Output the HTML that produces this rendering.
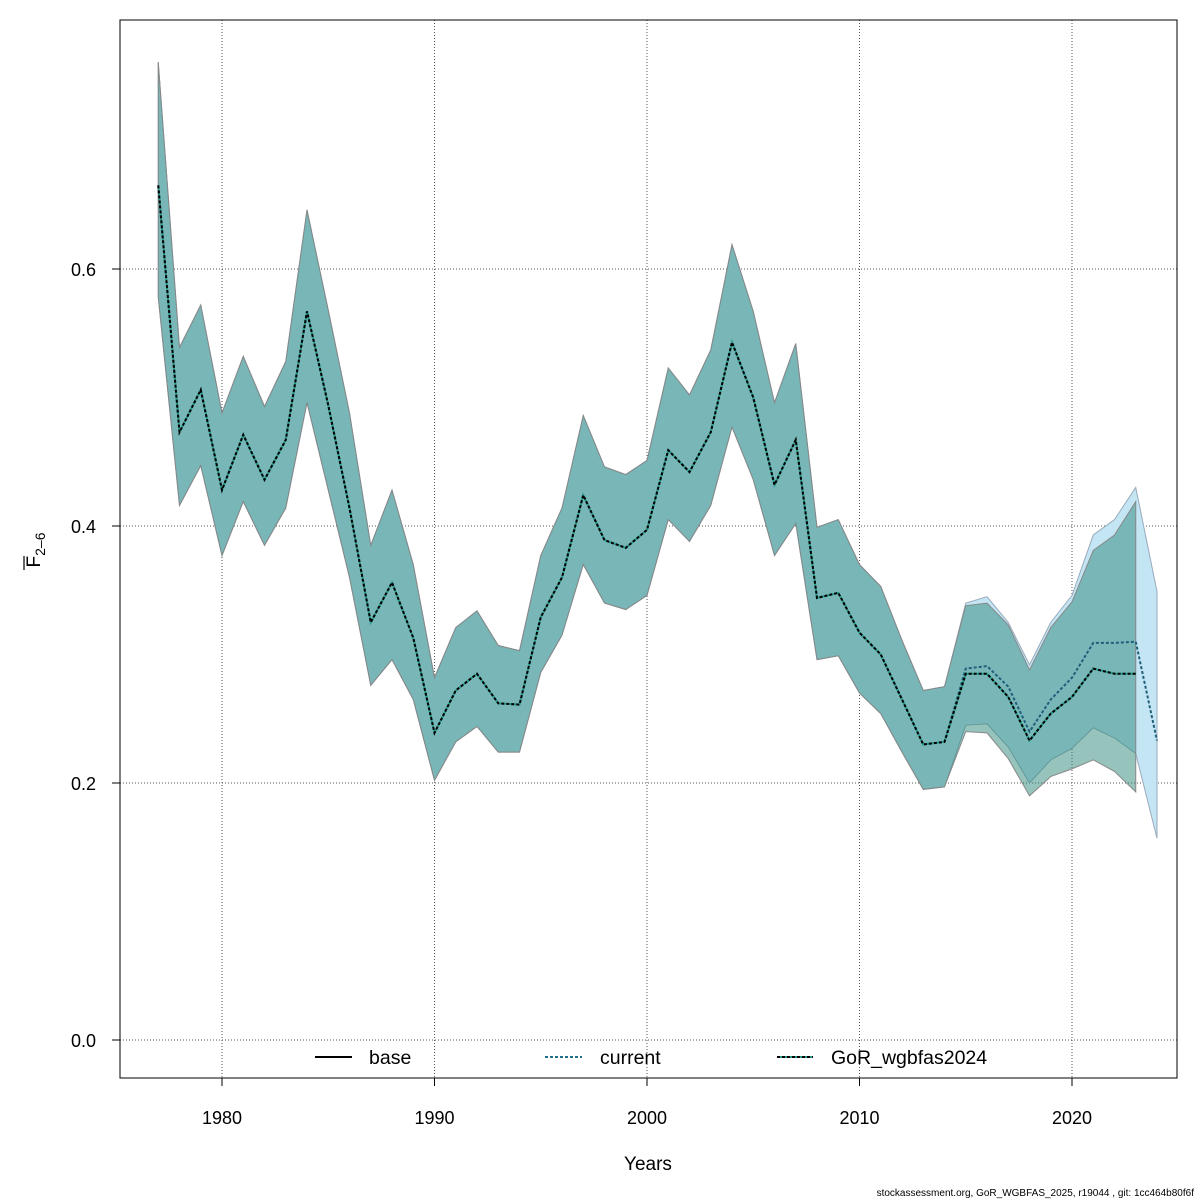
<!DOCTYPE html>
<html><head><meta charset="utf-8"><style>
body{margin:0;background:#fff}
svg{display:block;font-family:"Liberation Sans",sans-serif}
</style></head><body>
<svg id="chart" width="1200" height="1200" viewBox="0 0 1200 1200">
<rect width="1200" height="1200" fill="#fff"/>
<g id="grid"></g>
<g id="bands"></g>
<g id="lines"></g>
<g id="axes"></g>
<rect x="120" y="20" width="1057" height="1058" fill="none" stroke="#000" stroke-width="1"/>
<text x="648" y="1170" font-size="19" text-anchor="middle">Years</text>
<g transform="translate(40,550) rotate(-90)">
<text x="0" y="0" font-size="19" text-anchor="middle">F<tspan font-size="14" dy="5">2–6</tspan></text>
<line x1="-20" y1="-16" x2="-6" y2="-16" stroke="#000" stroke-width="1.2"/>
</g>
<g>
<g><line x1="315" y1="1057" x2="352" y2="1057" stroke="#000" stroke-width="2"/><text x="369" y="1064" font-size="19.5">base</text></g>
<g><line x1="545" y1="1057" x2="582" y2="1057" stroke="#1f6f8f" stroke-width="2" stroke-dasharray="3,2"/><text x="600" y="1064" font-size="19.5">current</text></g>
<g><line x1="777" y1="1057" x2="813" y2="1057" stroke="#2a9d8f" stroke-width="2"/><line x1="777" y1="1057" x2="813" y2="1057" stroke="#000" stroke-width="2" stroke-dasharray="3,2"/><text x="831" y="1064" font-size="19.5">GoR_wgbfas2024</text></g>
</g>
<text x="1194" y="1196" font-size="10" text-anchor="end">stockassessment.org, GoR_WGBFAS_2025, r19044 , git: 1cc464b80f6f</text>
</svg>
<script>
const yearsA=[1977,1978,1979,1980,1981,1982,1983,1984,1985,1986,1987,1988,1989,1990,1991,1992,1993,1994,1995,1996,1997,1998,1999,2000,2001,2002,2003,2004,2005,2006,2007,2008,2009,2010,2011,2012,2013,2014,2015,2016,2017,2018,2019,2020,2021,2022,2023];
const commonMid=[0.665,0.473,0.506,0.428,0.471,0.436,0.467,0.567,0.494,0.414,0.325,0.356,0.313,0.239,0.272,0.285,0.262,0.261,0.329,0.360,0.424,0.389,0.383,0.397,0.459,0.442,0.473,0.543,0.500,0.432,0.467,0.344,0.348,0.317,0.300,0.265,0.230,0.232];
const commonHi=[0.761,0.539,0.572,0.488,0.532,0.493,0.528,0.646,0.568,0.488,0.385,0.428,0.370,0.282,0.321,0.334,0.307,0.303,0.377,0.414,0.486,0.446,0.440,0.451,0.523,0.502,0.537,0.619,0.567,0.496,0.542,0.399,0.405,0.370,0.353,0.311,0.272,0.275];
const commonLo=[0.578,0.416,0.447,0.377,0.419,0.385,0.414,0.496,0.428,0.360,0.276,0.296,0.265,0.202,0.232,0.244,0.224,0.224,0.286,0.315,0.370,0.340,0.335,0.346,0.405,0.388,0.416,0.477,0.436,0.377,0.402,0.296,0.299,0.270,0.254,0.224,0.195,0.197];
const midA=commonMid.concat([0.285,0.285,0.267,0.233,0.254,0.267,0.289,0.285,0.285]);
const hiA=commonHi.concat([0.338,0.340,0.323,0.288,0.321,0.341,0.381,0.393,0.419]);
const loA=commonLo.concat([0.240,0.239,0.219,0.190,0.205,0.211,0.218,0.209,0.193]);
const yearsB=yearsA.concat([2024]);
const midB=commonMid.concat([0.289,0.291,0.275,0.240,0.265,0.282,0.309,0.309,0.310,0.233]);
const hiB=commonHi.concat([0.340,0.345,0.325,0.292,0.325,0.346,0.393,0.405,0.430,0.349]);
const loB=commonLo.concat([0.245,0.246,0.228,0.200,0.218,0.227,0.243,0.235,0.223,0.157]);
const xTicks=[1980,1990,2000,2010,2020];
const yTicks=[0.0,0.2,0.4,0.6];
const yTickLabels=["0.0","0.2","0.4","0.6"];

const NS="http://www.w3.org/2000/svg";
const X=y=>158.25+(y-1977)*21.25;
const Y=v=>1040-v*1285;
function mk(tag,attrs,parent){const e=document.createElementNS(NS,tag);for(const k in attrs)e.setAttribute(k,attrs[k]);parent.appendChild(e);return e;}
const grid=document.getElementById('grid'),axes=document.getElementById('axes'),bands=document.getElementById('bands'),lines=document.getElementById('lines');
xTicks.forEach(t=>{
  const g=mk('line',{x1:X(t),x2:X(t),y1:20,y2:1078,stroke:'#555','stroke-dasharray':'1,2','stroke-width':1},grid);
  
  
  const tk=mk('line',{x1:X(t),x2:X(t),y1:1078,y2:1086,stroke:'#000'},axes);
  
  
  const tx=mk('text',{x:X(t),y:1124,'font-size':18,'text-anchor':'middle'},axes);tx.textContent=t;
  
  
});
yTicks.forEach((t,i)=>{
  const g=mk('line',{x1:120,x2:1177,y1:Y(t),y2:Y(t),stroke:'#555','stroke-dasharray':'1,2','stroke-width':1},grid);
  
  
  const tk=mk('line',{x1:112,x2:120,y1:Y(t),y2:Y(t),stroke:'#000'},axes);
  
  
  const tx=mk('text',{x:96,y:Y(t)+7,'font-size':18,'text-anchor':'end'},axes);tx.textContent=yTickLabels[i];
  
  
});
function bandPts(yrs,hi,lo){const p=[];yrs.forEach((y,i)=>p.push(X(y)+','+Y(hi[i])));for(let i=yrs.length-1;i>=0;i--)p.push(X(yrs[i])+','+Y(lo[i]));return p.join(' ');}
function linePts(yrs,v){return yrs.map((y,i)=>X(y)+','+Y(v[i])).join(' ');}
const bB=mk('polygon',{points:bandPts(yearsB,hiB,loB),fill:'rgb(195,229,244)',stroke:'#9ab','stroke-width':1},bands);


const bA=mk('polygon',{points:bandPts(yearsA,hiA,loA),fill:'rgba(45,135,122,0.5)',stroke:'#888','stroke-width':1},bands);


const lBase=mk('polyline',{points:linePts(yearsA,midA),fill:'none',stroke:'#000','stroke-width':1.5},lines);


const lCur=mk('polyline',{points:linePts(yearsB,midB),fill:'none',stroke:'#1f5f7a','stroke-width':2,'stroke-dasharray':'3,2'},lines);


const lG1=mk('polyline',{points:linePts(yearsA,midA),fill:'none',stroke:'#2a9d8f','stroke-width':2},lines);


const lG2=mk('polyline',{points:linePts(yearsA,midA),fill:'none',stroke:'#000','stroke-width':2,'stroke-dasharray':'3,2'},lines);


</script>
</body></html>
